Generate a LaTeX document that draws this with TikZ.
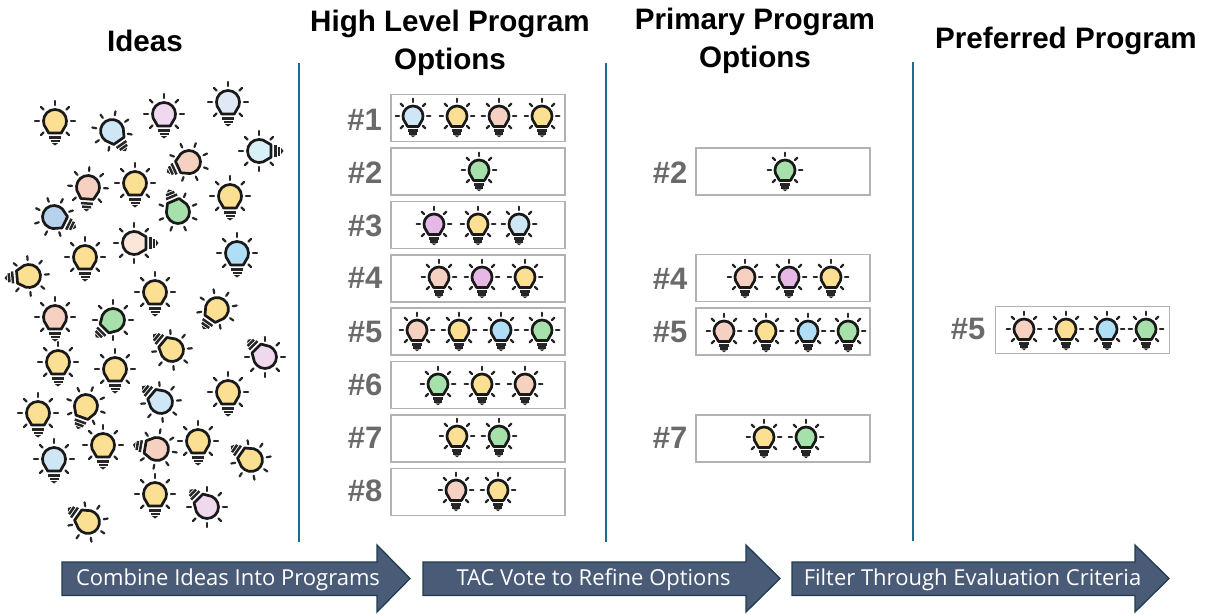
\documentclass[tikz,border=0pt]{standalone}
\usepackage{fontspec}
\setmainfont{Liberation Sans}
\newfontfamily\arrowfont{Open Sans}
\definecolor{byel}{HTML}{FBDF92}
\definecolor{bblu}{HTML}{CFE6F5}
\definecolor{bpnk}{HTML}{F0D8EE}
\definecolor{bpal}{HTML}{E0E9F5}
\definecolor{bcya}{HTML}{D8F0F8}
\definecolor{bpch}{HTML}{F6D0C0}
\definecolor{bgrn}{HTML}{A6E0AA}
\definecolor{bmid}{HTML}{B8D2EE}
\definecolor{bcre}{HTML}{FBE6D9}
\definecolor{bsky}{HTML}{B0DEF6}
\definecolor{bmag}{HTML}{E6B8E6}
\definecolor{divline}{HTML}{1F6B8E}
\definecolor{arrfill}{HTML}{4A5B78}
\definecolor{arredge}{HTML}{1E3D50}
\definecolor{boxgray}{HTML}{B2B2B2}
\definecolor{numgray}{HTML}{6A6A6A}
\tikzset{
  headtext/.style={font=\bfseries\fontsize{29.6}{38}\selectfont, align=center, text=black, inner sep=0pt},
  numtext/.style={font=\bfseries\fontsize{31}{35}\selectfont, text=numgray, inner sep=0pt},
  optbox/.style={draw=boxgray, line width=1.5pt, fill=white, minimum width=174pt, minimum height=47pt, inner sep=0pt},
  divider/.style={draw=divline, line width=1.6pt},
  flowarrow/.style={fill=arrfill, draw=arredge, line width=1.3pt, line join=miter},
  arrowtext/.style={font=\arrowfont\fontsize{22}{26}\selectfont, text=white, inner sep=0pt},
  bulbline/.style={line width=2.7pt, draw=black!90, line cap=round, line join=round},
  bulbray/.style={line width=2.2pt, draw=black!85, line cap=round},
  bulbbase/.style={line width=2.5pt, draw=black!85, line cap=butt}
}
% x, y, rotation, colour, scale
\newcommand{\lampicon}[5]{%
  \begin{scope}[shift={(#1,#2)},rotate=#3,scale=#5]
    \foreach \a in {-135,-90,-45,0,45,90,135}{
      \draw[bulbray] ({16*sin(\a)},{-16*cos(\a)}) -- ({20*sin(\a)},{-20*cos(\a)});
    }
    \draw[bulbline, fill=#4] (-6.3,12) -- (-8.8,7.6) .. controls (-10.7,5.5) and (-11.5,3) .. (-11.5,0)
      .. controls (-11.5,-6.35) and (-6.35,-11.5) .. (0,-11.5)
      .. controls (6.35,-11.5) and (11.5,-6.35) .. (11.5,0)
      .. controls (11.5,3) and (10.7,5.5) .. (8.8,7.6) -- (6.3,12) -- cycle;
    \draw[bulbbase] (-6,16.5) -- (6,16.5);
    \draw[bulbbase] (-4.5,20) -- (4.5,20);
    \fill[black!85] (-3,22.2) -- (3,22.2) -- (0,24.5) -- cycle;
  \end{scope}}
\begin{document}
\begin{tikzpicture}[x=1pt,y=-1pt]
\useasboundingbox (0,0) rectangle (1209,615);
\fill[white] (0,0) rectangle (1209,615);
% headings
\node[headtext] (h1) at (145,41) {Ideas};
\node[headtext] (h2) at (450,43) {High Level Program\\Options};
\node[headtext] (h3) at (755,41) {Primary Program\\Options};
\node[headtext] (h4) at (1066,41) {Preferred Program};
% dividers
\draw[divider] (299,63) -- (299,542);
\draw[divider] (606,63) -- (606,542);
\draw[divider] (913,62) -- (913,541);
% ideas
\foreach \px/\py/\pr/\pc in {55/121/0/byel,112/131/35/bblu,164/114/0/bpnk,228/102/0/bpal,259/151/90/bcya,
  189/162/-65/bpch,88/187/-4/bpch,135/183/0/byel,230/196/0/byel,178/212/-157/bgrn,54/217/64/bmid,
  134/243/90/bcre,85/257/0/byel,237/253/0/bsky,29/276/-85/byel,155/292/0/byel,217/309/-35/byel,
  55/317/0/bpch,113/320/-45/bgrn,172/350/-130/byel,265/357/-135/bpnk,58/362/0/byel,115/369/0/byel,
  161/402/-130/bblu,228/392/0/byel,38/413/0/byel,86/406/-20/byel,103/445/0/byel,198/441/0/byel,
  157/449/-100/bpch,54/459/0/bblu,251/460/-125/byel,155/494/0/byel,207/507/-135/bpnk,88/522/-125/byel}{
  \lampicon{\px}{\py}{\pr}{\pc}{1}
}
% option boxes
\node[optbox] (a1) at (478,118) {};
\node[optbox] (a2) at (478,171.5) {};
\node[optbox] (a3) at (478,225) {};
\node[optbox] (a4) at (478,278.5) {};
\node[optbox] (a5) at (478,331.5) {};
\node[optbox] (a6) at (478,385) {};
\node[optbox] (a7) at (478,438.5) {};
\node[optbox] (a8) at (478,492) {};
\node[optbox] (b2) at (783,171.5) {};
\node[optbox] (b4) at (783,278) {};
\node[optbox] (b5) at (783,331.5) {};
\node[optbox] (b7) at (783,438.5) {};
\node[optbox] (c5) at (1082.5,330) {};
% numbers
\node[numtext] (na1) at (364.5,120) {\#1};
\node[numtext] (na2) at (365,173) {\#2};
\node[numtext] (na3) at (365,226) {\#3};
\node[numtext] (na4) at (365,278) {\#4};
\node[numtext] (na5) at (365,332) {\#5};
\node[numtext] (na6) at (365,385) {\#6};
\node[numtext] (na7) at (365,438) {\#7};
\node[numtext] (na8) at (365,491) {\#8};
\node[numtext] (nb2) at (670,173) {\#2};
\node[numtext] (nb4) at (670,279) {\#4};
\node[numtext] (nb5) at (670,332) {\#5};
\node[numtext] (nb7) at (670,438) {\#7};
\node[numtext] (nc5) at (968,329) {\#5};
% program bulbs
\foreach \px/\py/\pc in {413/116/bblu,457/116/byel,499/116/bpch,542/116/byel,
  479/170/bgrn,
  434/224/bmag,478/224/byel,519/224/bblu,
  439/277/bpch,482/277/bmag,525/277/byel,
  417/330/bpch,459/330/byel,501/330/bsky,542/330/bgrn,
  438/384/bgrn,482/384/byel,525/384/bpch,
  457/436/byel,499/436/bgrn,
  456/490/bpch,498/490/byel,
  785/170/bgrn,
  745/277/bpch,789/277/bmag,831/277/byel,
  724/331/bpch,766/331/byel,808/331/bsky,848/331/bgrn,
  764/437/byel,806/437/bgrn,
  1024/329/bpch,1066/329/byel,1107/329/bsky,1146/329/bgrn}{
  \lampicon{\px}{\py}{0}{\pc}{0.87}
}
% flow arrows
\draw[flowarrow] (62,562) -- (377,562) -- (377,545) -- (410,578.5) -- (377,612) -- (377,595.5) -- (62,595.5) -- cycle;
\draw[flowarrow] (423,562) -- (746,562) -- (746,545) -- (780,578.5) -- (746,612) -- (746,595.5) -- (423,595.5) -- cycle;
\draw[flowarrow] (792,562) -- (1135,562) -- (1135,545) -- (1169,578.5) -- (1135,612) -- (1135,595.5) -- (792,595.5) -- cycle;
\node[arrowtext] (t1) at (228,580) {Combine Ideas Into Programs};
\node[arrowtext] (t2) at (593.5,580) {TAC Vote to Refine Options};
\node[arrowtext] (t3) at (972.5,580) {Filter Through Evaluation Criteria};
\end{tikzpicture}
\end{document}
